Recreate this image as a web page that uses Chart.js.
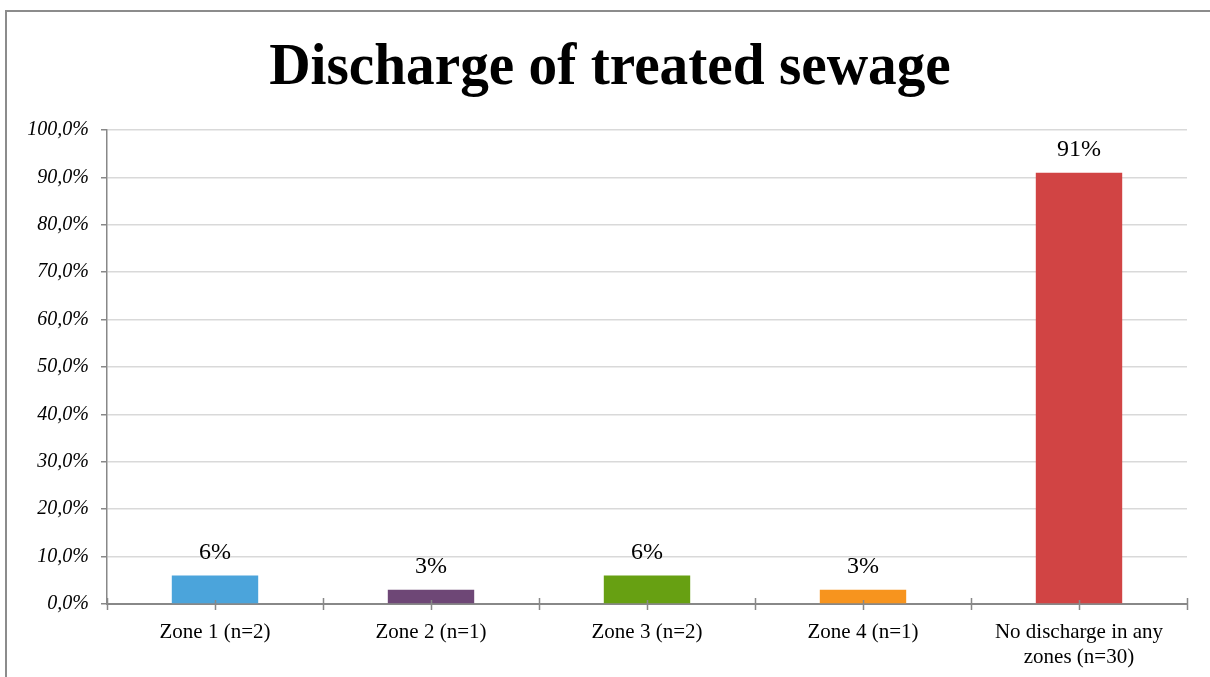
<!DOCTYPE html>
<html>
<head>
<meta charset="utf-8">
<style>
  html, body { margin: 0; padding: 0; background: #ffffff; }
  #wrap { position: relative; width: 1210px; height: 677px; overflow: hidden; }
  #frame {
    position: absolute; left: 5px; top: 10px; width: 1300px; height: 800px;
    border-left: 2px solid #8c8c8c; border-top: 2px solid #8c8c8c;
    pointer-events: none;
  }
  canvas { position: absolute; left: 0; top: 0; }
</style>
<script src="https://cdn.jsdelivr.net/npm/chart.js@4.4.1/dist/chart.umd.min.js"></script>
</head>
<body>
<div id="wrap">
  <canvas id="chart" width="1210" height="677"></canvas>
  <div id="frame"></div>
</div>
<script>
// Share of respondents by discharge zone (percent)
const categories = [
  'Zone 1 (n=2)',
  'Zone 2 (n=1)',
  'Zone 3 (n=2)',
  'Zone 4 (n=1)',
  ['No discharge in any', 'zones (n=30)']
];
const shares = [6, 3, 6, 3, 91];
const barColors = ['#4BA4DB', '#6E4776', '#67A012', '#F7941E', '#D14444'];
const yTicks = [0, 10, 20, 30, 40, 50, 60, 70, 80, 90, 100];
const chartTitle = 'Discharge of treated sewage';

const SERIF = '"Liberation Serif", "Times New Roman", serif';
const AXIS_GREY = '#888888';
const GRID_GREY = '#D9D9D9';

// Bold heading, slightly condensed, centred over the framed area
const heading = {
  id: 'heading',
  afterDraw(chart) {
    const ctx = chart.ctx;
    ctx.save();
    ctx.font = 'bold 60px ' + SERIF;
    ctx.fillStyle = '#000000';
    ctx.textAlign = 'center';
    ctx.textBaseline = 'alphabetic';
    ctx.translate(610, 84);
    ctx.scale(0.955, 1);
    ctx.fillText(chartTitle, 0, 0);
    ctx.restore();
  }
};

// Value labels above each bar
const valueLabels = {
  id: 'valueLabels',
  afterDatasetsDraw(chart) {
    const ctx = chart.ctx;
    const meta = chart.getDatasetMeta(0);
    ctx.save();
    ctx.font = '24px ' + SERIF;
    ctx.fillStyle = '#000000';
    ctx.textAlign = 'center';
    ctx.textBaseline = 'alphabetic';
    meta.data.forEach((bar, i) => {
      const v = chart.data.datasets[0].data[i];
      ctx.fillText(Math.round(v) + '%', bar.x, bar.y - 17);
    });
    ctx.restore();
  }
};

// Category axis tick marks: at every category boundary and every category centre
const categoryTicks = {
  id: 'categoryTicks',
  afterDraw(chart) {
    const x = chart.scales.x;
    const ctx = chart.ctx;
    const y0 = x.top;
    const n = chart.data.labels.length;
    const step = (x.right - x.left) / n;
    ctx.save();
    ctx.strokeStyle = AXIS_GREY;
    ctx.lineWidth = 1.5;
    ctx.beginPath();
    for (let i = 0; i <= n; i++) {
      const px = Math.round(x.left + i * step) + 0.5;
      ctx.moveTo(px, y0 - 6);
      ctx.lineTo(px, y0 + 6);
    }
    for (let i = 0; i < n; i++) {
      const px = Math.round(x.getPixelForValue(i)) + 0.5;
      ctx.moveTo(px, y0 - 4);
      ctx.lineTo(px, y0 + 6);
    }
    ctx.stroke();
    ctx.restore();
  }
};

new Chart(document.getElementById('chart'), {
  type: 'bar',
  data: {
    labels: categories,
    datasets: [{
      data: shares,
      backgroundColor: barColors,
      borderWidth: 0,
      barPercentage: 0.4,
      categoryPercentage: 1.0
    }]
  },
  options: {
    responsive: false,
    devicePixelRatio: 1,
    animation: false,
    layout: { padding: { left: 0, right: 23, top: 130, bottom: 0 } },
    plugins: {
      legend: { display: false },
      tooltip: { enabled: false },
      title: { display: false }
    },
    scales: {
      x: {
        offset: true,
        grid: { display: false, drawTicks: false },
        border: { display: true, color: AXIS_GREY, width: 2 },
        ticks: {
          color: '#000000',
          font: { family: SERIF, size: 21, lineHeight: 1.2 },
          padding: 16,
          maxRotation: 0,
          autoSkip: false
        },
        afterFit(scale) { scale.height = 73; }
      },
      y: {
        min: 0,
        max: 100,
        afterBuildTicks(scale) { scale.ticks = yTicks.map(v => ({ value: v })); },
        grid: {
          color: GRID_GREY,
          lineWidth: 1.5,
          tickColor: AXIS_GREY,
          tickLength: 6,
          drawTicks: true
        },
        border: { display: true, color: AXIS_GREY, width: 1.5 },
        ticks: {
          color: '#000000',
          font: { family: SERIF, size: 20, style: 'italic' },
          padding: 12,
          callback: v => v.toFixed(1).replace('.', ',') + '%'
        },
        afterFit(scale) { scale.width = 107; }
      }
    }
  },
  plugins: [heading, valueLabels, categoryTicks]
});
</script>
</body>
</html>
